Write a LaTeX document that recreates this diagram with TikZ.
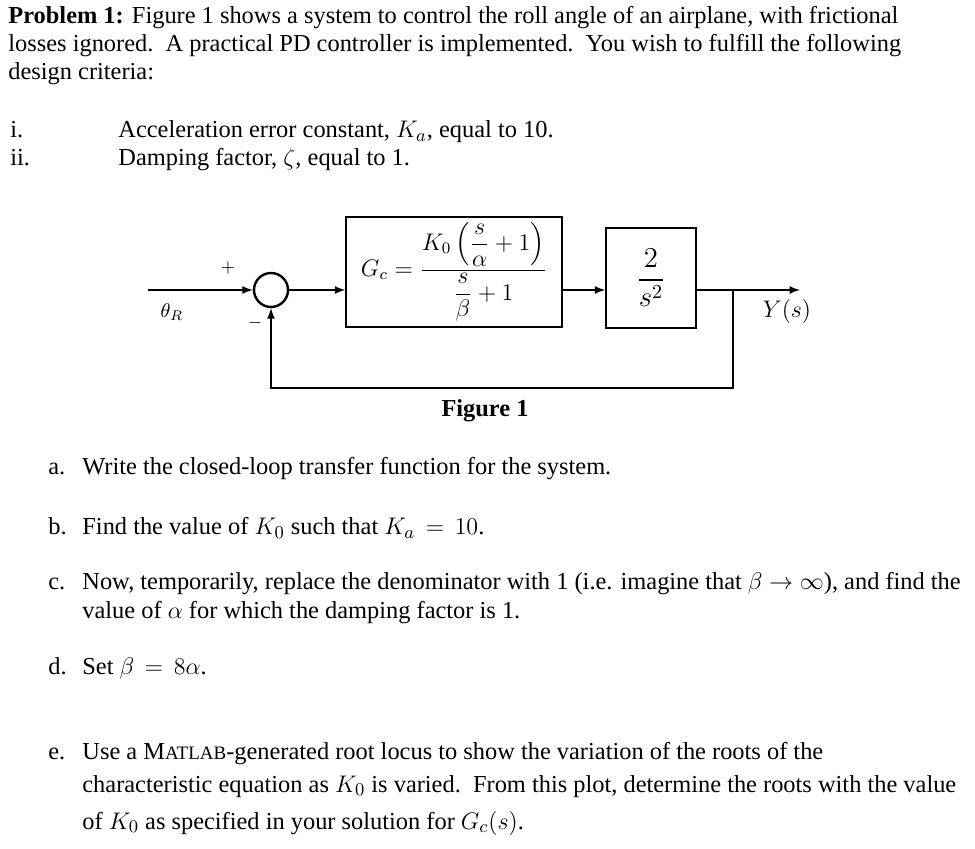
\documentclass[tikz,border=0pt]{standalone}
\usepackage{amsmath}
\usepackage{amssymb}
\usepackage{fontspec}
\setmainfont{Liberation Serif}
\usetikzlibrary{positioning}
\tikzset{
  txt/.style={anchor=base west, inner sep=0pt, font=\fontsize{12.2}{14}\selectfont},
  blk/.style={draw, thick, inner sep=0pt},
  sig/.style={->, thick, >=latex}
}
\begin{document}
\begin{tikzpicture}[x=0.5pt, y=-0.5pt]
\useasboundingbox (0,0) rectangle (975,849);

        % Problem statement
        \node[txt] (p1) at (8,24) {\textbf{Problem 1:} Figure 1 shows a system to control the roll angle of an airplane, with frictional};
        \node[txt] (p2) at (8,52) {losses ignored.\ \ A practical PD controller is implemented.\ \ You wish to fulfill the following};
        \node[txt] (p3) at (8,80) {design criteria:};
        \node[txt] (i1) at (10,138) {i.};
        \node[txt] (c1) at (118,138) {Acceleration error constant, $K_a$, equal to 10.};
        \node[txt] (i2) at (10,166) {ii.};
        \node[txt] (c2) at (118,166) {Damping factor, $\zeta$, equal to 1.};

        % Summing junction
        \node[draw, circle, very thick, minimum size=17pt, inner sep=0pt] (sum) at (271,290) {};
        \coordinate (in) at (148,290);
        \draw[sig] (in) -- (sum);
        \node[font=\small] (plus) at (228,268) {$+$};
        \node[font=\small] (minus) at (255,323) {$-$};
        \node[font=\normalsize] (thr) at (172,312) {$\theta_R$};

        % Controller
        \node[blk, minimum width=108pt, minimum height=55pt, font=\large] (gc) at (454,272) {$G_c=\dfrac{K_0\left(\dfrac{s}{\alpha}+1\right)}{\dfrac{s}{\beta}+1}$};
        \draw[sig] (sum) -- (sum -| gc.west);

        % Plant
        \node[blk, minimum width=45pt, minimum height=50pt, font=\Large] (plant) at (651,278) {$\dfrac{2}{s^2}$};
        \draw[sig] (sum -| gc.east) -- (sum -| plant.west);

        % Output and feedback
        \coordinate (out) at (800,290);
        \coordinate (pick) at (733,290);
        \coordinate (fb) at (733,388);
        \draw[sig] (sum -| plant.east) -- (out);
        \node[font=\large] (ys) at (787,312) {$Y(s)$};
        \draw[sig] (pick) -- (fb) -| (sum.south);

        \node[font=\fontsize{12.2}{14}\selectfont\bfseries] (fig) at (485,411) {Figure 1};

        % Questions
        \node[txt] (la) at (48,475) {a.};
        \node[txt] (qa) at (82,475) {Write the closed-loop transfer function for the system.};
        \node[txt] (lb) at (48,535) {b.};
        \node[txt] (qb) at (82,535) {Find the value of $K_0$ such that $K_a\,=\,10$.};
        \node[txt] (lc) at (48,590) {c.};
        \node[txt] (qc1) at (82,590) {Now, temporarily, replace the denominator with 1 (i.e. imagine that $\beta\rightarrow\infty$), and find the};
        \node[txt] (qc2) at (82,619) {value of $\alpha$ for which the damping factor is 1.};
        \node[txt] (ld) at (48,675) {d.};
        \node[txt] (qd) at (82,675) {Set $\beta\,=\,8\alpha$.};
        \node[txt] (le) at (48,760) {e.};
        \node[txt] (qe1) at (82,760) {Use a M{\fontsize{9.5}{10}\selectfont ATLAB}-generated root locus to show the variation of the roots of the};
        \node[txt] (qe2) at (82,792) {characteristic equation as $K_0$ is varied.\ \ From this plot, determine the roots with the value};
        \node[txt] (qe3) at (82,829) {of $K_0$ as specified in your solution for $G_c(s)$.};

\end{tikzpicture}
\end{document}
